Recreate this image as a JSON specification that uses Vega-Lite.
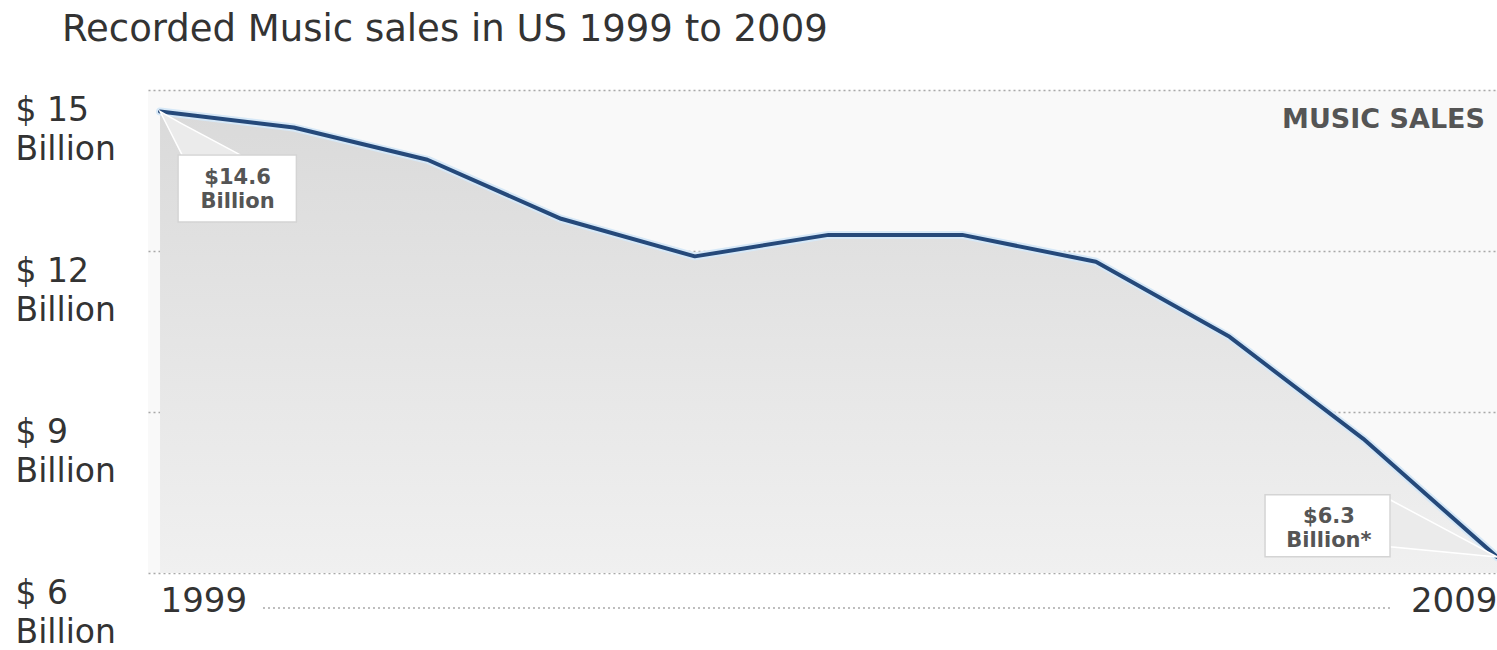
{
  "$schema": "https://vega.github.io/schema/vega-lite/v6.json",
  "width": 1349,
  "height": 483,
  "autosize": {"type": "none"},
  "padding": {"left": 148, "top": 90, "right": 0, "bottom": 77},
  "background": "#ffffff",
  "config": {
    "view": {"fill": "#f9f9f9", "stroke": null},
    "font": "DejaVu Sans"
  },
  "title": {
    "text": "Recorded Music sales in US 1999 to 2009",
    "anchor": "start",
    "frame": "group",
    "dx": -86,
    "offset": 12,
    "baseline": "alphabetic",
    "font": "DejaVu Sans",
    "fontSize": 37,
    "fontWeight": "normal",
    "color": "#333333"
  },
  "datasets": {
    "sales": [
      {"year": 1999, "sales": 14.6},
      {"year": 2000, "sales": 14.3},
      {"year": 2001, "sales": 13.7},
      {"year": 2002, "sales": 12.6},
      {"year": 2003, "sales": 11.9},
      {"year": 2004, "sales": 12.3},
      {"year": 2005, "sales": 12.3},
      {"year": 2006, "sales": 11.8},
      {"year": 2007, "sales": 10.4},
      {"year": 2008, "sales": 8.5},
      {"year": 2009, "sales": 6.3}
    ],
    "wedges": [
      {"g": "a", "x": 1999, "y": 14.6, "y2": 14.6},
      {"g": "a", "x": 1999.165, "y": 14.37, "y2": 13.79},
      {"g": "a", "x": 1999.6, "y": 13.79, "y2": 13.79},
      {"g": "b", "x": 2008.2, "y": 7.365, "y2": 6.49},
      {"g": "b", "x": 2009, "y": 6.3, "y2": 6.3}
    ],
    "boxes": [
      {"x": 1999.135, "x2": 2000.02, "y": 13.79, "y2": 12.54},
      {"x": 2007.265, "x2": 2008.2, "y": 7.458, "y2": 6.303}
    ],
    "labels": [
      {"x": 1999.58, "y": 13.25, "t": "$14.6"},
      {"x": 1999.58, "y": 12.8, "t": "Billion"},
      {"x": 2007.743, "y": 6.93, "t": "$6.3"},
      {"x": 2007.743, "y": 6.49, "t": "Billion*"}
    ]
  },
  "layer": [
    {
      "data": {"name": "sales"},
      "mark": {
        "type": "area",
        "color": {
          "gradient": "linear", "x1": 0, "y1": 0, "x2": 0, "y2": 1,
          "stops": [{"offset": 0, "color": "#dadada"}, {"offset": 1, "color": "#f0f0f0"}]
        },
        "clip": true
      },
      "encoding": {
        "x": {
          "field": "year", "type": "quantitative",
          "scale": {"domain": [1998.91, 2009], "nice": false, "zero": false},
          "axis": {
            "values": [1999, 2009],
            "format": "d",
            "title": null,
            "domain": false,
            "ticks": false,
            "grid": false,
            "labelFont": "DejaVu Sans",
            "labelFontSize": 34,
            "labelColor": "#333333",
            "labelBaseline": "top",
            "labelPadding": 11,
            "labelAlign": {"condition": {"test": "datum.value <= 1999", "value": "left"}, "value": "right"},
            "labelOverlap": false,
            "labelBound": false
          }
        },
        "y": {
          "field": "sales", "type": "quantitative",
          "scale": {"domain": [6, 15], "nice": false, "zero": false},
          "axis": {
            "values": [6, 9, 12, 15],
            "title": null,
            "domain": false,
            "ticks": false,
            "grid": true,
            "gridDash": [2, 3],
            "gridColor": "#a8a8a8",
            "gridWidth": 1.5,
            "labelExpr": "['$ ' + datum.value, 'Billion']",
            "labelFont": "DejaVu Sans",
            "labelFontSize": 33,
            "labelLineHeight": 39,
            "labelColor": "#333333",
            "labelAlign": "left",
            "labelBaseline": "top",
            "labelPadding": 133,
            "labelOffset": 4,
            "labelOverlap": false,
            "labelBound": false
          }
        },
        "y2": {"datum": 6}
      }
    },
    {
      "data": {"name": "sales"},
      "mark": {"type": "line", "color": "#d6e8f7", "strokeWidth": 8, "strokeCap": "round", "strokeJoin": "round"},
      "encoding": {
        "x": {"field": "year", "type": "quantitative"},
        "y": {"field": "sales", "type": "quantitative"}
      }
    },
    {
      "data": {"name": "sales"},
      "mark": {"type": "line", "color": "#25497a", "strokeWidth": 4, "strokeCap": "round", "strokeJoin": "round"},
      "encoding": {
        "x": {"field": "year", "type": "quantitative"},
        "y": {"field": "sales", "type": "quantitative"}
      }
    },
    {
      "data": {"name": "wedges"},
      "mark": {"type": "area", "color": "#ebebeb", "stroke": "#ffffff", "strokeWidth": 1.5, "opacity": 1},
      "encoding": {
        "x": {"field": "x", "type": "quantitative"},
        "y": {"field": "y", "type": "quantitative"},
        "y2": {"field": "y2"},
        "detail": {"field": "g"}
      }
    },
    {
      "data": {"name": "boxes"},
      "mark": {"type": "rect", "color": "#ffffff", "stroke": "#d4d4d4", "strokeWidth": 1.5},
      "encoding": {
        "x": {"field": "x", "type": "quantitative"},
        "x2": {"field": "x2"},
        "y": {"field": "y", "type": "quantitative"},
        "y2": {"field": "y2"}
      }
    },
    {
      "data": {"name": "labels"},
      "mark": {"type": "text", "font": "DejaVu Sans", "fontWeight": "bold", "fontSize": 21, "color": "#555555", "align": "center", "baseline": "alphabetic"},
      "encoding": {
        "x": {"field": "x", "type": "quantitative"},
        "y": {"field": "y", "type": "quantitative"},
        "text": {"field": "t"}
      }
    },
    {
      "data": {"values": [{}]},
      "mark": {"type": "rule", "color": "#a8a8a8", "strokeDash": [2, 3], "strokeWidth": 1.5, "clip": false},
      "encoding": {
        "x": {"datum": 1999.77},
        "x2": {"datum": 2008.22},
        "y": {"datum": 5.35}
      }
    },
    {
      "data": {"values": [{}]},
      "mark": {"type": "text", "font": "DejaVu Sans", "fontWeight": "bold", "fontSize": 27, "color": "#555555", "align": "right", "baseline": "alphabetic", "dx": -12},
      "encoding": {
        "x": {"datum": 2009},
        "y": {"datum": 14.29},
        "text": {"value": "MUSIC SALES"}
      }
    }
  ]
}
